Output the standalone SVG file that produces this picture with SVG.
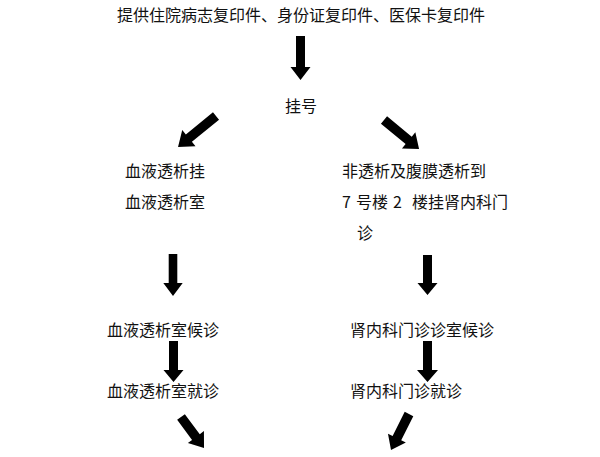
<svg xmlns="http://www.w3.org/2000/svg" width="600" height="457" viewBox="0 0 600 457">
<style>
.t{font-family:"Noto Sans CJK SC","Noto Sans",sans-serif;font-size:16px;fill:#111;}
.a{fill:#000;}
</style>
<rect width="600" height="457" fill="#fff"/>
<g id="connectors">
<polygon class="a" points="0,-4.5 31,-4.5 31,-10 44,0 31,10 31,4.5 0,4.5" transform="translate(300.5,36) rotate(90)"/>
<polygon class="a" points="0,-4.8 35,-4.8 35,-10.5 49,0 35,10.5 35,4.8 0,4.8" transform="translate(216,116) rotate(140.8)"/>
<polygon class="a" points="0,-4.8 32,-4.8 32,-10.5 45.5,0 32,10.5 32,4.8 0,4.8" transform="translate(384,120) rotate(39.6)"/>
<polygon class="a" points="0,-4.3 29,-4.3 29,-9.7 42,0 29,9.7 29,4.3 0,4.3" transform="translate(173,254) rotate(90)"/>
<polygon class="a" points="0,-4.5 28,-4.5 28,-10 40,0 28,10 28,4.5 0,4.5" transform="translate(427.5,255) rotate(90)"/>
<polygon class="a" points="0,-4.5 29,-4.5 29,-10 41,0 29,10 29,4.5 0,4.5" transform="translate(173.5,341) rotate(90)"/>
<polygon class="a" points="0,-4.5 29,-4.5 29,-10.5 41,0 29,10.5 29,4.5 0,4.5" transform="translate(427.5,341) rotate(90)"/>
<polygon class="a" points="0,-4.8 25,-4.8 25,-10 38.6,0 25,10 25,4.8 0,4.8" transform="translate(181,417) rotate(53.4)"/>
<polygon class="a" points="0,-4.8 27,-4.8 27,-10 40.2,0 27,10 27,4.8 0,4.8" transform="translate(409,414) rotate(116.6)"/>
</g>
<g id="n-docs"><text class="t" x="117" y="21">提供住院病志复印件、身份证复印件、医保卡复印件</text></g>
<g id="n-register"><text class="t" x="285" y="112">挂号</text></g>
<g id="n-dialysis-reg">
<text class="t" x="125" y="177">血液透析挂</text>
<text class="t" x="125" y="208">血液透析室</text>
</g>
<g id="n-nephro-reg">
<text class="t" x="342" y="177">非透析及腹膜透析到</text>
<text class="t" y="208"><tspan x="342">7</tspan><tspan x="356">号楼</tspan><tspan x="393">2</tspan><tspan x="412">楼挂肾内科门</tspan></text>
<text class="t" x="357" y="239">诊</text>
</g>
<g id="n-dialysis-wait"><text class="t" x="107" y="336">血液透析室候诊</text></g>
<g id="n-nephro-wait"><text class="t" x="350" y="336">肾内科门诊诊室候诊</text></g>
<g id="n-dialysis-visit"><text class="t" x="107" y="397">血液透析室就诊</text></g>
<g id="n-nephro-visit"><text class="t" x="350" y="397">肾内科门诊就诊</text></g>
</svg>
